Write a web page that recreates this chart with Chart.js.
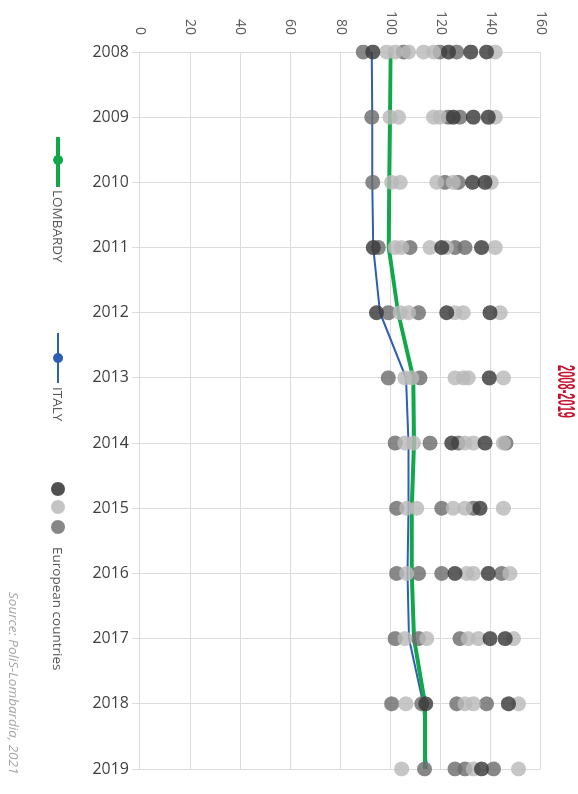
<!DOCTYPE html>
<html>
<head>
<meta charset="utf-8">
<script src="https://cdn.jsdelivr.net/npm/chart.js@4.4.1/dist/chart.umd.min.js"></script>
<style>
  html, body { margin: 0; padding: 0; background: #fff; overflow: hidden; }
  #wrap {
    position: absolute; left: 0; top: 0; width: 794px; height: 578px;
    transform-origin: 0 0; transform: translate(578px, 0) rotate(90deg);
    overflow: hidden; background: #fff;
    font-family: "Open Sans", "Noto Sans", sans-serif;
  }
  #chart { position: absolute; left: 0; top: 0; }
  .abs { position: absolute; white-space: nowrap; }
  #title {
    left: 365px; top: 1px; font: bold 23px/22px "Liberation Sans Narrow", "Liberation Sans", sans-serif;
    color: #c4122f; transform-origin: 0 0;
  }
  .lg-text { top: 512px; font-size: 13.5px; line-height: 16px; color: #595959; }
  .lg-line { height: 0; }
  .dot { border-radius: 50%; }
  #source { left: 592px; top: 556px; font-size: 13.5px; line-height: 16px; font-style: italic; color: #a6a6a6; }
</style>
</head>
<body>
<div id="wrap">
  <canvas id="chart" width="794" height="578"></canvas>
  <div id="title" class="abs">2008-2019</div>

  <div class="abs lg-line" style="left:137px; top:518px; width:50px; border-top:4px solid #12a84a;"></div>
  <div class="abs dot" style="left:155px; top:515px; width:10px; height:10px; background:#12a84a;"></div>
  <div class="abs lg-text" style="left:190px;">LOMBARDY</div>

  <div class="abs lg-line" style="left:333px; top:519px; width:50px; border-top:2.5px solid #2f5eb5;"></div>
  <div class="abs dot" style="left:353px; top:515px; width:10px; height:10px; background:#2f5eb5;"></div>
  <div class="abs lg-text" style="left:387px;">ITALY</div>

  <div class="abs dot" style="left:482px; top:513px; width:14px; height:14px; background:#505050;"></div>
  <div class="abs dot" style="left:500px; top:513px; width:14px; height:14px; background:#c4c4c4;"></div>
  <div class="abs dot" style="left:520px; top:513px; width:14px; height:14px; background:#878787;"></div>
  <div class="abs lg-text" style="left:547px;">European countries</div>

  <div id="source" class="abs">Source: PoliS-Lombardia, 2021</div>
</div>

<script>
// Indice 2008 = 100 ; le graphique est dessiné couché puis tourné de 90°.

const years = ['2008','2009','2010','2011','2012','2013','2014','2015','2016','2017','2018','2019'];

const lombardy = [100, 99.8, 99.5, 99.3, 103, 109, 109.3, 108.4, 108.4, 109.3, 113.7, 113.7];
const italy    = [92.5, 92.7, 92.7, 93.1, 95.8, 106.1, 107.1, 107.1, 106.7, 107.3, 113, 114.4];

// pays européens, une liste par année, en trois teintes
const euroDark = [
    [92.9, 123.1, 132.0, 138.3],
    [125.0, 133.0, 139.0],
    [132.7, 137.7],
    [93.1, 120.4, 136.3],
    [94.4, 122.4, 139.7],
    [139.4],
    [124.4, 137.7],
    [135.7],
    [125.7, 139.0],
    [139.7, 145.7],
    [114.0, 147.0],
    [136.3]
];
const euroLight = [
    [98.4, 101.8, 107.1, 113.1, 117.1, 141.7],
    [99.8, 103.1, 117.1, 119.7, 141.7],
    [100.4, 103.8, 118.4, 125.0, 140.1],
    [101.8, 104.4, 115.7, 122.3, 141.7],
    [103.8, 107.1, 125.7, 129.0, 143.7],
    [105.7, 108.4, 125.7, 129.0, 131.0, 145.0],
    [105.7, 109.1, 129.7, 133.0, 145.0],
    [106.4, 110.4, 125.0, 129.7, 145.0],
    [106.4, 130.4, 133.0, 147.6],
    [105.7, 114.4, 131.0, 135.0, 149.0],
    [106.1, 129.7, 133.0, 151.0],
    [104.4, 133.0, 151.0]
];
const euroMid = [
    [89.1, 105.1, 119.7, 126.4],
    [92.5, 123.0, 127.7],
    [92.9, 121.7, 127.0],
    [95.1, 107.7, 125.7, 129.7],
    [99.1, 111.1],
    [99.1, 111.7],
    [101.8, 115.7, 127.0, 146.0],
    [102.4, 120.4, 133.0],
    [102.4, 111.1, 120.4, 144.3],
    [101.8, 111.1, 127.7],
    [100.4, 112.4, 126.4, 138.3],
    [113.5, 125.7, 129.7, 141.0]
];

const GRID = '#dcdcdc';
const TICK = '#595959';

function toPoints(rows) {
    return rows.flatMap((vals, i) => vals.map(v => ({ x: years[i], y: v })));
}

function dots(label, rows, color) {
    return { label, data: toPoints(rows), showLine: false, order: 0,
             pointRadius: 7.5, pointHoverRadius: 7.5, pointBorderWidth: 0,
             pointBackgroundColor: color, backgroundColor: color };
}

new Chart(document.getElementById('chart').getContext('2d'), {
    type: 'line',
    data: {
        labels: years,
        datasets: [
            dots('dark', euroDark, 'rgba(58,58,58,0.82)'),
            dots('light', euroLight, 'rgba(186,186,186,0.82)'),
            dots('mid', euroMid, 'rgba(110,110,110,0.82)'),
            { label: 'Lombardy', data: lombardy, borderColor: '#12a84a', borderWidth: 4,
              pointRadius: 0, tension: 0, order: 1 },
            { label: 'Italy', data: italy, borderColor: '#2f5eb5', borderWidth: 2,
              pointRadius: 0, tension: 0, order: 1 }
        ]
    },
    options: {
        responsive: false, animation: false, devicePixelRatio: 1,
        layout: { padding: { left: 0, right: 25, top: 37, bottom: 80 } },
        plugins: { legend: { display: false }, tooltip: { enabled: false } },
        scales: {
            x: {
                grid: { color: GRID, tickLength: 8 },
                border: { color: GRID },
                ticks: { color: '#404040', font: { family: 'Open Sans', size: 16 },
                         minRotation: 90, maxRotation: 90, padding: 3, autoSkip: false },
                afterFit: s => { s.height = 60; }
            },
            y: {
                min: 0, max: 160,
                grid: { color: GRID, drawTicks: false },
                border: { color: GRID },
                ticks: { stepSize: 20, color: TICK, font: { family: 'Open Sans', size: 14 }, padding: 17 },
                afterFit: s => { s.width = 52; }
            }
        }
    }
});

// titre étroit : on le comprime à la largeur voulue
const title = document.getElementById('title');
title.style.transform = 'scaleX(' + (53 / title.getBoundingClientRect().height) + ')';
</script>
</body>
</html>
